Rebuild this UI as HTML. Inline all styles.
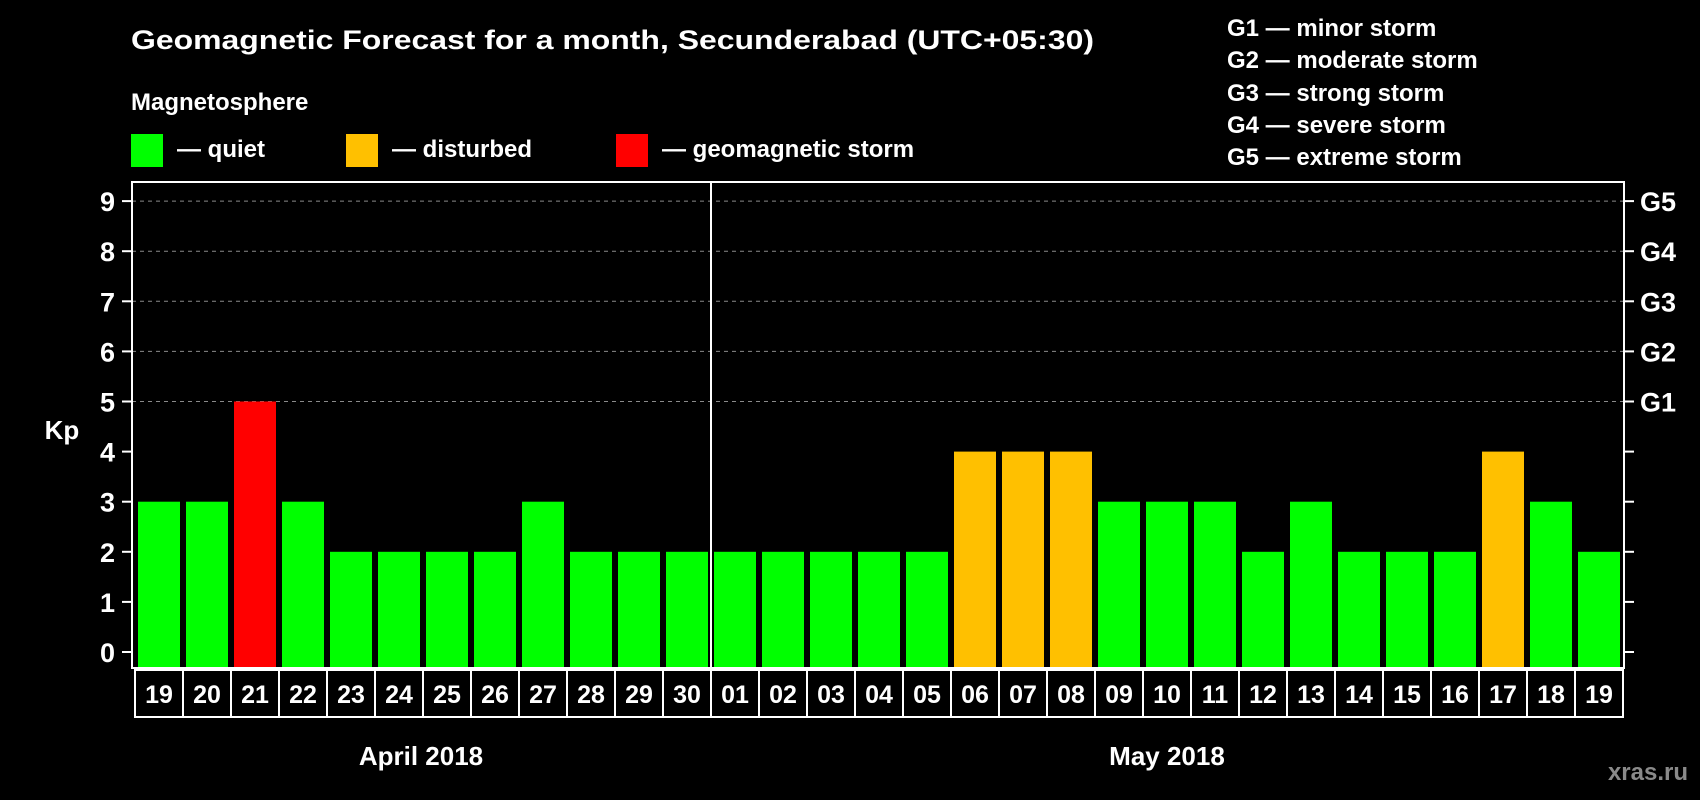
<!DOCTYPE html>
<html><head><meta charset="utf-8"><style>
html,body{margin:0;padding:0;background:#000;}
svg{display:block;font-family:"Liberation Sans",Arial,sans-serif;font-weight:bold;}
</style></head><body>
<svg id="chart" width="1700" height="800" viewBox="0 0 1700 800" xmlns="http://www.w3.org/2000/svg">
<rect width="1700" height="800" fill="#000"/>
<text x="131" y="49" font-size="27" fill="#fff" textLength="963" lengthAdjust="spacingAndGlyphs">Geomagnetic Forecast for a month, Secunderabad (UTC+05:30)</text>
<text x="131" y="110" font-size="24" fill="#fff">Magnetosphere</text>
<g>
<rect x="131" y="134" width="32" height="33" fill="#00ff00"/>
<text x="177" y="157" font-size="24" fill="#fff">— quiet</text></g>
<g>
<rect x="346" y="134" width="32" height="33" fill="#ffc000"/>
<text x="392" y="157" font-size="24" fill="#fff">— disturbed</text></g>
<g>
<rect x="616" y="134" width="32" height="33" fill="#ff0000"/>
<text x="662" y="157" font-size="24" fill="#fff">— geomagnetic storm</text></g>
<g font-size="24" fill="#fff">
<text x="1227" y="36">G1 — minor storm</text>
<text x="1227" y="68">G2 — moderate storm</text>
<text x="1227" y="101">G3 — strong storm</text>
<text x="1227" y="133">G4 — severe storm</text>
<text x="1227" y="165">G5 — extreme storm</text>
</g>
<g id="grid"></g>
<g id="bars"></g>
<g id="axes"></g>
<text x="62" y="439" font-size="26" fill="#fff" text-anchor="middle">Kp</text>
<text x="421" y="765" font-size="26" fill="#fff" text-anchor="middle">April 2018</text>
<text x="1167" y="765" font-size="26" fill="#fff" text-anchor="middle">May 2018</text>
<text x="1688" y="780" font-size="24" fill="#8a8a8a" text-anchor="end">xras.ru</text>
</svg>
<script>
const days = ["19","20","21","22","23","24","25","26","27","28","29","30","01","02","03","04","05","06","07","08","09","10","11","12","13","14","15","16","17","18","19"];
const kpValues = [3,3,5,3,2,2,2,2,3,2,2,2,2,2,2,2,2,4,4,4,3,3,3,2,3,2,2,2,4,3,2];
const yTicks = [0,1,2,3,4,5,6,7,8,9];
const gLabels = ["G1","G2","G3","G4","G5"];
const monthBreakIndex = 12;

const NS = "http://www.w3.org/2000/svg";
const plotLeft = 132, plotRight = 1624, plotTop = 182, plotBottom = 668;
const y0 = 652, unit = 50.1;
const pitch = 48, barW = 42, firstBar = 138;
function yScale(v){ return y0 - v*unit; }
function xScale(i){ return firstBar + i*pitch; }
function mk(tag, attrs, parent){ const e=document.createElementNS(NS,tag); for(const k in attrs) e.setAttribute(k,attrs[k]); parent.appendChild(e); return e; }
function color(v){ return v>=5 ? "#ff0000" : (v>=4 ? "#ffc000" : "#00ff00"); }

const gridG = document.getElementById("grid");
const barsG = document.getElementById("bars");
const axesG = document.getElementById("axes");

yTicks.forEach(t=>{
  if(t>=5){
    const g = mk("line",{x1:plotLeft,x2:plotRight,y1:yScale(t),y2:yScale(t),stroke:"#8a8a8a","stroke-width":1,"stroke-dasharray":"4,4"},gridG);
    
    
  }
  const lt = mk("line",{x1:122,x2:plotLeft,y1:yScale(t),y2:yScale(t),stroke:"#fff","stroke-width":2},axesG);
  
  
  const rt = mk("line",{x1:plotRight,x2:plotRight+10,y1:yScale(t),y2:yScale(t),stroke:"#fff","stroke-width":2},axesG);
  
  
  const lb = mk("text",{x:115,y:yScale(t)+10,"font-size":27,fill:"#fff","text-anchor":"end"},axesG);
  lb.textContent = t;
  
  
  if(t>=5){
    const gl = mk("text",{x:1640,y:yScale(t)+10,"font-size":27,fill:"#fff"},axesG);
    gl.textContent = gLabels[t-5];
    
    
  }
});

kpValues.forEach((v,i)=>{
  const r = mk("rect",{x:xScale(i),y:yScale(v),width:barW,height:plotBottom-1-yScale(v),fill:color(v)},barsG);
  
  
});

const frame = mk("rect",{x:plotLeft,y:plotTop,width:plotRight-plotLeft,height:plotBottom-plotTop,fill:"none",stroke:"#fff","stroke-width":2},axesG);


const divX = xScale(monthBreakIndex)-3;
const div = mk("line",{x1:divX,x2:divX,y1:plotTop,y2:plotBottom,stroke:"#fff","stroke-width":2},axesG);



days.forEach((d,i)=>{
  const bx = xScale(i)-3;
  const box = mk("rect",{x:bx,y:670,width:pitch,height:47,fill:"none",stroke:"#fff","stroke-width":2},axesG);
  
  
  const t = mk("text",{x:bx+pitch/2,y:703,"font-size":25,fill:"#fff","text-anchor":"middle"},axesG);
  t.textContent = d;
  
  
});
</script>
</body></html>
